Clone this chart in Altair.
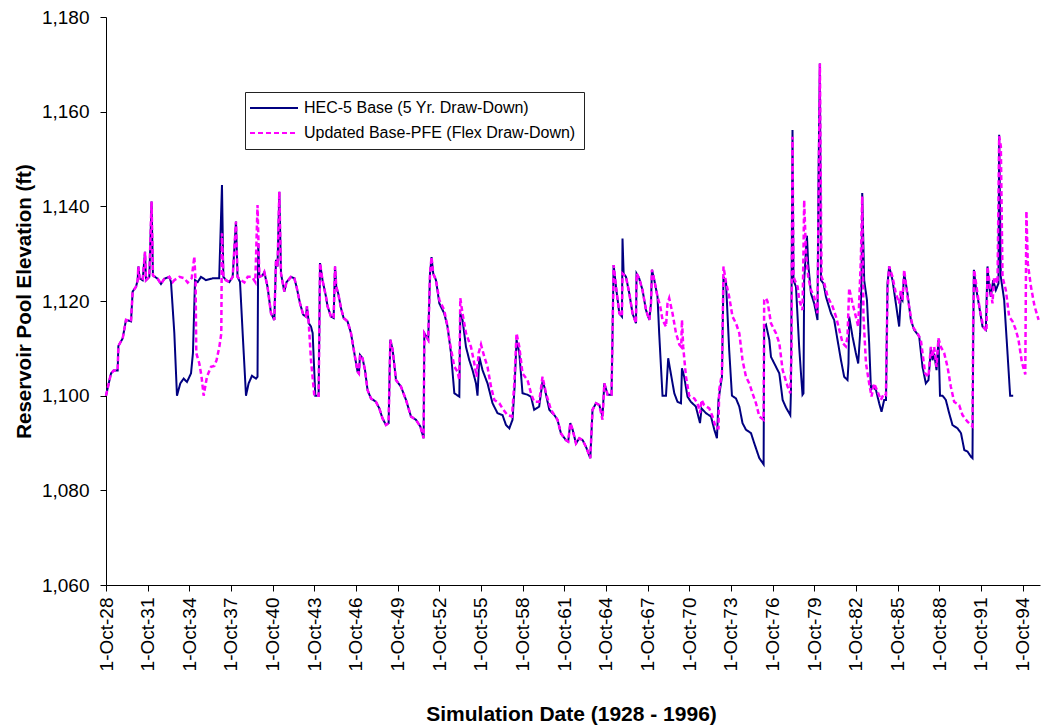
import altair as alt
import pandas as pd

HEC = "HEC-5 Base (5 Yr. Draw-Down)"
PFE = "Updated Base-PFE (Flex Draw-Down)"

# Time axis in decimal years (1928.75 = 1 Oct 1928)
hec_years = [
    1928.75, 1929.11, 1929.30, 1929.59, 1929.64, 1929.95, 1930.19, 1930.55, 1930.67, 1930.91,
    1931.03, 1931.08, 1931.17, 1931.39, 1931.56, 1931.63, 1931.87, 1932.03, 1932.13, 1932.47,
    1932.71, 1932.95, 1933.31, 1933.43, 1933.67, 1933.86, 1934.10, 1934.34, 1934.58, 1934.87,
    1935.01, 1935.16, 1935.35, 1935.59, 1935.95, 1936.43, 1936.90, 1937.10, 1937.20, 1937.39,
    1937.63, 1937.87, 1938.11, 1938.22, 1938.40, 1938.59, 1938.83, 1939.02, 1939.26, 1939.55,
    1939.66, 1939.71, 1939.79, 1940.02, 1940.15, 1940.38, 1940.63, 1940.87, 1940.99, 1941.10,
    1941.23, 1941.35, 1941.59, 1941.75, 1942.07, 1942.31, 1942.47, 1942.72, 1942.95, 1943.15,
    1943.22, 1943.35, 1943.51, 1943.63, 1943.82, 1944.06, 1944.16, 1944.34, 1944.59, 1944.70,
    1944.95, 1945.14, 1945.24, 1945.33, 1945.47, 1945.67, 1945.86, 1946.14, 1946.39, 1946.63,
    1946.86, 1946.96, 1947.04, 1947.22, 1947.40, 1947.58, 1947.83, 1948.19, 1948.43, 1948.66,
    1948.91, 1949.10, 1949.22, 1949.39, 1949.63, 1949.99, 1950.35, 1950.71, 1951.07, 1951.38,
    1951.62, 1951.67, 1951.95, 1952.08, 1952.19, 1952.31, 1952.51, 1952.75, 1953.10, 1953.34,
    1953.59, 1953.83, 1954.19, 1954.26, 1954.42, 1954.67, 1954.91, 1955.14, 1955.39, 1955.50,
    1955.63, 1955.86, 1956.22, 1956.58, 1956.94, 1957.30, 1957.55, 1957.79, 1958.02, 1958.17,
    1958.31, 1958.51, 1958.74, 1959.10, 1959.35, 1959.58, 1959.94, 1960.18, 1960.31, 1960.67,
    1961.03, 1961.26, 1961.51, 1961.87, 1962.03, 1962.18, 1962.35, 1962.59, 1962.83, 1963.07,
    1963.31, 1963.62, 1963.78, 1964.03, 1964.27, 1964.50, 1964.63, 1964.87, 1965.15, 1965.30,
    1965.47, 1965.71, 1965.90, 1965.94, 1966.02, 1966.19, 1966.43, 1966.66, 1966.91, 1966.95,
    1967.14, 1967.38, 1967.63, 1967.87, 1967.99, 1968.06, 1968.23, 1968.46, 1968.58, 1968.82,
    1969.07, 1969.23, 1969.43, 1969.67, 1969.90, 1970.15, 1970.22, 1970.38, 1970.62, 1970.86,
    1971.22, 1971.52, 1971.63, 1971.95, 1972.31, 1972.55, 1972.74, 1972.85, 1973.10, 1973.21,
    1973.39, 1973.62, 1973.82, 1974.11, 1974.35, 1974.58, 1974.83, 1975.19, 1975.42, 1975.79,
    1976.10, 1976.14, 1976.27, 1976.51, 1976.63, 1976.99, 1977.23, 1977.47, 1977.71, 1978.02,
    1978.07, 1978.18, 1978.25, 1978.43, 1978.66, 1978.79, 1978.90, 1978.97, 1979.02, 1979.15,
    1979.22, 1979.31, 1979.51, 1979.74, 1979.98, 1980.05, 1980.15, 1980.23, 1980.41, 1980.59,
    1980.95, 1981.18, 1981.42, 1981.67, 1981.90, 1982.14, 1982.21, 1982.26, 1982.50, 1982.74,
    1982.91, 1983.05, 1983.15, 1983.20, 1983.34, 1983.54, 1983.70, 1983.83, 1983.94, 1984.19,
    1984.42, 1984.59, 1984.78, 1984.91, 1985.02, 1985.14, 1985.38, 1985.62, 1985.86, 1985.98,
    1986.10, 1986.22, 1986.46, 1986.70, 1986.94, 1987.30, 1987.54, 1987.78, 1987.97, 1988.14,
    1988.26, 1988.38, 1988.55, 1988.69, 1988.80, 1988.98, 1989.22, 1989.46, 1989.70, 1990.06,
    1990.31, 1990.55, 1990.78, 1991.03, 1991.14, 1991.19, 1991.24, 1991.38, 1991.62, 1991.86,
    1992.10, 1992.22, 1992.34, 1992.46, 1992.63, 1992.82, 1993.01, 1993.06, 1993.18, 1993.42,
    1993.66, 1993.85, 1994.07,
]
hec_elev = [
    1100.0, 1104.7, 1105.3, 1105.3, 1110.5, 1112.1, 1116.0, 1115.7, 1122.0, 1123.0,
    1124.4, 1127.3, 1124.8, 1124.4, 1130.4, 1124.4, 1125.1, 1141.0, 1125.4, 1124.7,
    1123.6, 1124.7, 1125.1, 1124.0, 1113.2, 1100.0, 1102.6, 1103.6, 1102.9, 1104.7,
    1109.0, 1124.4, 1124.0, 1125.1, 1124.4, 1124.8, 1124.8, 1144.5, 1125.1, 1124.4,
    1124.0, 1125.1, 1136.8, 1125.1, 1124.0, 1113.2, 1100.0, 1102.6, 1104.2, 1103.6,
    1104.0, 1132.2, 1125.1, 1125.4, 1126.1, 1123.0, 1117.4, 1116.0, 1128.7, 1127.3,
    1143.1, 1125.8, 1122.0, 1124.0, 1125.1, 1124.8, 1123.0, 1119.5, 1117.1, 1116.7,
    1118.9, 1115.3, 1114.6, 1113.2, 1100.0, 1100.0, 1128.0, 1124.4, 1120.9, 1118.9,
    1116.7, 1116.4, 1127.3, 1123.0, 1121.6, 1118.5, 1116.4, 1115.7, 1113.2, 1109.0,
    1105.1, 1104.7, 1108.6, 1107.9, 1105.4, 1101.2, 1099.4, 1098.7, 1097.3, 1095.2,
    1093.8, 1094.2, 1111.8, 1109.7, 1103.3, 1101.9, 1099.1, 1095.6, 1094.9, 1093.5,
    1091.0, 1113.2, 1111.8, 1125.8, 1129.3, 1125.8, 1124.4, 1119.5, 1117.4, 1114.6,
    1109.0, 1100.5, 1099.8, 1117.4, 1116.0, 1110.3, 1107.5, 1105.4, 1102.6, 1100.0,
    1108.2, 1105.4, 1102.6, 1098.4, 1096.3, 1095.9, 1093.8, 1093.1, 1094.9, 1101.9,
    1111.8, 1109.0, 1100.5, 1100.2, 1099.8, 1097.0, 1097.7, 1103.0, 1101.9, 1097.0,
    1095.9, 1094.9, 1092.0, 1090.6, 1090.3, 1094.2, 1092.8, 1089.9, 1091.0, 1090.6,
    1089.2, 1086.8, 1097.0, 1098.4, 1098.0, 1095.6, 1102.6, 1100.2, 1100.2, 1127.6,
    1123.0, 1117.4, 1116.7, 1133.2, 1125.8, 1125.1, 1121.6, 1117.4, 1115.3, 1125.8,
    1124.8, 1122.3, 1118.1, 1116.0, 1119.5, 1126.6, 1124.4, 1120.9, 1113.2, 1100.0,
    1100.0, 1107.9, 1104.5, 1100.5, 1098.7, 1098.4, 1105.8, 1104.0, 1099.8, 1098.7,
    1097.7, 1094.2, 1097.3, 1096.3, 1095.6, 1092.8, 1091.0, 1099.1, 1104.0, 1125.1,
    1124.0, 1109.7, 1100.0, 1099.4, 1097.7, 1094.2, 1092.8, 1092.1, 1090.0, 1086.8,
    1085.5, 1114.6, 1115.0, 1111.8, 1108.2, 1106.1, 1104.7, 1099.1, 1097.5, 1095.9,
    1101.2, 1156.1, 1124.4, 1123.0, 1110.3, 1104.7, 1100.2, 1100.5, 1124.4, 1130.8,
    1133.8, 1127.8, 1121.6, 1119.5, 1116.0, 1145.6, 1170.2, 1124.4, 1123.7, 1120.9,
    1117.4, 1116.0, 1111.8, 1107.5, 1104.0, 1103.3, 1106.8, 1116.7, 1112.5, 1109.0,
    1106.8, 1113.2, 1125.1, 1142.8, 1124.4, 1120.2, 1111.0, 1101.2, 1101.9, 1101.2,
    1098.4, 1096.6, 1099.1, 1099.1, 1123.7, 1127.3, 1124.4, 1119.5, 1114.6, 1120.9,
    1120.2, 1125.8, 1121.6, 1116.0, 1113.9, 1112.5, 1106.1, 1102.6, 1103.3, 1110.0,
    1107.5, 1108.9, 1105.4, 1111.8, 1100.0, 1100.0, 1099.1, 1096.3, 1093.8, 1093.1,
    1092.1, 1088.5, 1088.2, 1087.1, 1086.8, 1111.8, 1126.6, 1123.0, 1118.9, 1114.6,
    1113.9, 1127.3, 1123.0, 1120.9, 1124.4, 1122.3, 1123.7, 1155.1, 1125.1, 1120.2,
    1109.0, 1100.0, 1100.0,
]

pfe_years = [
    1928.75, 1929.11, 1929.30, 1929.59, 1929.64, 1929.95, 1930.19, 1930.55, 1930.67, 1930.91,
    1931.03, 1931.08, 1931.17, 1931.39, 1931.56, 1931.63, 1931.87, 1932.03, 1932.13, 1932.47,
    1932.71, 1932.95, 1933.31, 1933.55, 1933.67, 1934.03, 1934.39, 1934.63, 1934.92, 1935.11,
    1935.20, 1935.25, 1935.47, 1935.63, 1935.78, 1936.02, 1936.31, 1936.55, 1936.71, 1936.91,
    1937.05, 1937.10, 1937.20, 1937.39, 1937.63, 1937.87, 1938.11, 1938.22, 1938.47, 1938.71,
    1938.95, 1939.26, 1939.50, 1939.66, 1939.79, 1940.02, 1940.15, 1940.38, 1940.63, 1940.87,
    1940.99, 1941.10, 1941.23, 1941.35, 1941.59, 1941.75, 1942.07, 1942.31, 1942.47, 1942.72,
    1942.95, 1943.15, 1943.22, 1943.34, 1943.51, 1943.75, 1944.06, 1944.16, 1944.34, 1944.59,
    1944.70, 1944.95, 1945.14, 1945.24, 1945.33, 1945.47, 1945.67, 1945.86, 1946.14, 1946.39,
    1946.63, 1946.86, 1946.96, 1947.04, 1947.22, 1947.40, 1947.58, 1947.83, 1948.19, 1948.43,
    1948.66, 1948.91, 1949.10, 1949.22, 1949.39, 1949.63, 1949.99, 1950.35, 1950.71, 1951.07,
    1951.38, 1951.62, 1951.67, 1951.95, 1952.08, 1952.19, 1952.31, 1952.51, 1952.75, 1953.10,
    1953.34, 1953.47, 1953.83, 1954.06, 1954.19, 1954.26, 1954.42, 1954.67, 1955.03, 1955.27,
    1955.43, 1955.58, 1955.75, 1955.99, 1956.22, 1956.47, 1956.71, 1957.07, 1957.30, 1957.66,
    1957.98, 1958.15, 1958.31, 1958.51, 1958.74, 1959.10, 1959.35, 1959.58, 1959.94, 1960.18,
    1960.43, 1960.79, 1961.03, 1961.26, 1961.51, 1961.87, 1962.03, 1962.18, 1962.35, 1962.59,
    1962.83, 1963.07, 1963.31, 1963.62, 1963.78, 1964.03, 1964.27, 1964.50, 1964.63, 1964.87,
    1965.15, 1965.30, 1965.47, 1965.71, 1965.90, 1965.94, 1966.19, 1966.43, 1966.66, 1966.91,
    1966.95, 1967.14, 1967.38, 1967.63, 1967.87, 1967.99, 1968.06, 1968.23, 1968.46, 1968.66,
    1968.82, 1969.07, 1969.18, 1969.30, 1969.54, 1969.79, 1970.03, 1970.17, 1970.22, 1970.31,
    1970.51, 1970.74, 1971.11, 1971.34, 1971.52, 1971.63, 1971.82, 1972.19, 1972.42, 1972.67,
    1972.85, 1972.90, 1973.10, 1973.21, 1973.39, 1973.62, 1973.86, 1974.11, 1974.35, 1974.58,
    1974.83, 1975.07, 1975.30, 1975.55, 1975.79, 1976.10, 1976.14, 1976.27, 1976.38, 1976.63,
    1976.99, 1977.23, 1977.47, 1977.83, 1978.02, 1978.11, 1978.18, 1978.25, 1978.55, 1978.66,
    1978.90, 1978.97, 1979.02, 1979.15, 1979.31, 1979.51, 1979.74, 1979.98, 1980.15, 1980.27,
    1980.47, 1980.71, 1981.07, 1981.31, 1981.55, 1981.79, 1982.02, 1982.14, 1982.26, 1982.50,
    1982.74, 1982.91, 1983.10, 1983.20, 1983.29, 1983.47, 1983.70, 1983.87, 1984.06, 1984.30,
    1984.54, 1984.78, 1984.91, 1985.02, 1985.14, 1985.38, 1985.62, 1985.86, 1985.98, 1986.10,
    1986.22, 1986.46, 1986.82, 1987.18, 1987.42, 1987.73, 1987.97, 1988.14, 1988.26, 1988.38,
    1988.55, 1988.69, 1988.86, 1989.10, 1989.34, 1989.58, 1989.82, 1990.18, 1990.42, 1990.78,
    1991.14, 1991.19, 1991.26, 1991.43, 1991.67, 1991.91, 1992.15, 1992.22, 1992.34, 1992.58,
    1992.70, 1992.94, 1993.06, 1993.18, 1993.30, 1993.54, 1993.78, 1994.02, 1994.26, 1994.45,
    1994.70, 1994.94, 1995.02, 1995.12, 1995.35, 1995.60, 1995.90,
]
pfe_elev = [
    1100.0, 1104.7, 1105.3, 1105.3, 1110.5, 1112.1, 1116.0, 1115.7, 1122.0, 1123.0,
    1124.4, 1127.3, 1124.8, 1124.4, 1130.4, 1124.4, 1125.1, 1141.0, 1125.4, 1124.7,
    1123.6, 1124.7, 1125.1, 1124.0, 1124.4, 1125.1, 1124.8, 1123.9, 1124.8, 1129.4,
    1124.0, 1109.0, 1106.8, 1104.0, 1100.0, 1104.0, 1106.1, 1106.3, 1107.5, 1110.3,
    1113.1, 1134.3, 1125.1, 1124.4, 1124.0, 1125.1, 1136.8, 1125.1, 1124.4, 1123.9,
    1125.1, 1125.1, 1124.0, 1140.3, 1125.1, 1125.4, 1126.1, 1123.0, 1117.4, 1116.0,
    1128.7, 1127.3, 1143.1, 1125.8, 1122.0, 1124.0, 1125.1, 1124.8, 1123.0, 1119.5,
    1117.1, 1116.7, 1118.9, 1115.7, 1107.5, 1100.0, 1100.0, 1128.0, 1124.4, 1120.9,
    1118.9, 1116.7, 1116.4, 1127.3, 1123.0, 1121.6, 1118.5, 1116.4, 1115.7, 1113.2,
    1109.0, 1105.1, 1104.7, 1108.6, 1107.9, 1105.4, 1101.2, 1099.4, 1098.7, 1097.3,
    1095.2, 1093.8, 1094.2, 1111.8, 1109.7, 1103.3, 1101.9, 1099.1, 1095.6, 1094.9,
    1093.5, 1091.0, 1113.2, 1111.8, 1125.8, 1129.3, 1125.8, 1124.4, 1120.2, 1118.1,
    1114.6, 1111.8, 1106.1, 1105.1, 1103.3, 1120.6, 1117.4, 1113.2, 1110.3, 1106.8,
    1104.0, 1109.0, 1110.8, 1108.2, 1106.1, 1101.9, 1099.1, 1098.4, 1097.3, 1095.9,
    1095.6, 1102.6, 1113.2, 1110.3, 1104.7, 1103.3, 1100.5, 1098.7, 1098.7, 1104.0,
    1100.5, 1097.0, 1095.9, 1094.9, 1092.0, 1090.6, 1090.3, 1094.2, 1092.8, 1089.9,
    1091.0, 1090.6, 1089.2, 1086.8, 1097.0, 1098.4, 1098.0, 1094.9, 1102.6, 1100.2,
    1100.2, 1127.6, 1123.0, 1117.4, 1116.7, 1125.8, 1125.1, 1121.6, 1117.4, 1115.3,
    1125.8, 1124.8, 1122.3, 1118.1, 1116.0, 1119.5, 1126.6, 1124.4, 1120.9, 1118.8,
    1116.0, 1114.6, 1119.5, 1120.6, 1117.4, 1113.2, 1110.8, 1110.3, 1116.0, 1110.3,
    1104.0, 1100.0, 1099.4, 1098.4, 1096.3, 1099.1, 1098.0, 1097.3, 1095.6, 1093.1,
    1093.1, 1101.2, 1104.7, 1127.3, 1124.0, 1120.9, 1116.7, 1115.3, 1113.2, 1107.5,
    1104.0, 1102.6, 1100.5, 1098.4, 1095.6, 1094.9, 1120.2, 1120.6, 1119.9, 1115.3,
    1113.2, 1111.1, 1105.4, 1101.9, 1100.5, 1109.6, 1154.7, 1125.1, 1123.0, 1120.2,
    1118.1, 1130.1, 1141.3, 1130.1, 1125.1, 1122.3, 1120.9, 1117.4, 1170.2, 1125.1,
    1123.7, 1120.9, 1118.8, 1116.7, 1113.9, 1111.1, 1110.4, 1112.5, 1122.7, 1119.5,
    1116.7, 1114.6, 1128.7, 1142.1, 1116.7, 1106.8, 1102.6, 1099.8, 1102.6, 1100.9,
    1099.1, 1100.5, 1100.2, 1122.3, 1127.3, 1125.1, 1121.6, 1119.5, 1122.3, 1120.2,
    1126.6, 1120.9, 1114.6, 1113.2, 1111.8, 1104.7, 1104.0, 1110.3, 1108.2, 1110.3,
    1106.1, 1112.1, 1110.3, 1109.0, 1106.1, 1101.9, 1098.7, 1098.0, 1095.9, 1094.5,
    1093.5, 1116.0, 1126.6, 1123.0, 1118.1, 1114.6, 1113.6, 1127.3, 1124.4, 1119.5,
    1125.1, 1123.7, 1154.8, 1152.7, 1125.1, 1122.3, 1116.7, 1115.7, 1113.9, 1111.8,
    1107.0, 1104.5, 1139.0, 1128.0, 1123.0, 1119.0, 1116.0,
]

# One tick every three years, on 1 October
tick_years = [1928.75 + 3 * k for k in range(23)]
y_ticks = [1060, 1080, 1100, 1120, 1140, 1160, 1180]

df = pd.concat([
    pd.DataFrame({"year": hec_years, "elev": hec_elev, "series": HEC}),
    pd.DataFrame({"year": pfe_years, "elev": pfe_elev, "series": PFE}),
], ignore_index=True)

FONT = "Liberation Sans"

# Long horizontal line symbol for the legend (unit path scaled by sqrt(size)/2)
legend = alt.Legend(
    title=None, orient="none", legendX=139, legendY=75,
    symbolType="M-4,0L4,0", symbolSize=144, symbolStrokeWidth=2, symbolOffset=13,
    labelFont=FONT, labelFontSize=16, labelColor="black", labelOffset=22, labelLimit=0,
    rowPadding=9, padding=8, fillColor="white", strokeColor="#222222",
)
color = alt.Color("series:N", scale=alt.Scale(domain=[HEC, PFE], range=["#000080", "#FF00FF"]), legend=legend)
dash = alt.StrokeDash("series:N", scale=alt.Scale(domain=[HEC, PFE], range=[[1, 0], [5, 3]]), legend=legend)

x = alt.X(
    "year:Q",
    scale=alt.Scale(domain=[1928.75, 1996.0], nice=False, zero=False),
    axis=alt.Axis(
        values=tick_years, labelExpr="'1-Oct-' + substring(toString(floor(datum.value)), 2, 4)",
        labelAngle=270, labelAlign="right", labelBaseline="middle", labelPadding=6,
        labelFont=FONT, labelFontSize=19, labelColor="black",
        tickSize=6, tickColor="black", domainColor="black", grid=False,
        title="Simulation Date (1928 - 1996)", titleFont=FONT, titleFontSize=21, titleFontWeight="bold",
        titleColor="black", titleX=465, titleY=129, titleBaseline="middle", titleAlign="center",
    ),
)
y = alt.Y(
    "elev:Q",
    scale=alt.Scale(domain=[1060, 1180], nice=False, zero=False),
    axis=alt.Axis(
        values=y_ticks, format=",.0f", labelFont=FONT, labelFontSize=19, labelColor="black", labelPadding=11,
        tickSize=6, tickColor="black", domainColor="black", grid=False,
        title="Reservoir Pool Elevation (ft)", titleFont=FONT, titleFontSize=20.5, titleFontWeight="bold",
        titleColor="black", titleAngle=270, titleX=-82, titleY=284, titleAlign="center", titleBaseline="middle",
    ),
)

base = alt.Chart(df).encode(x=x, y=y, color=color, strokeDash=dash)
hec_line = base.transform_filter(alt.datum.series == HEC).mark_line(strokeWidth=2)
pfe_line = base.transform_filter(alt.datum.series == PFE).mark_line(strokeWidth=2.5)

chart = alt.layer(hec_line, pfe_line).properties(
    width=934, height=568,
    autosize=alt.AutoSizeParams(type="none"),
    padding={"left": 106, "top": 17, "right": 1, "bottom": 143},
    background="white",
).configure_view(stroke=None)

chart.save("out.html", embed_options={"renderer": "svg", "actions": False})
